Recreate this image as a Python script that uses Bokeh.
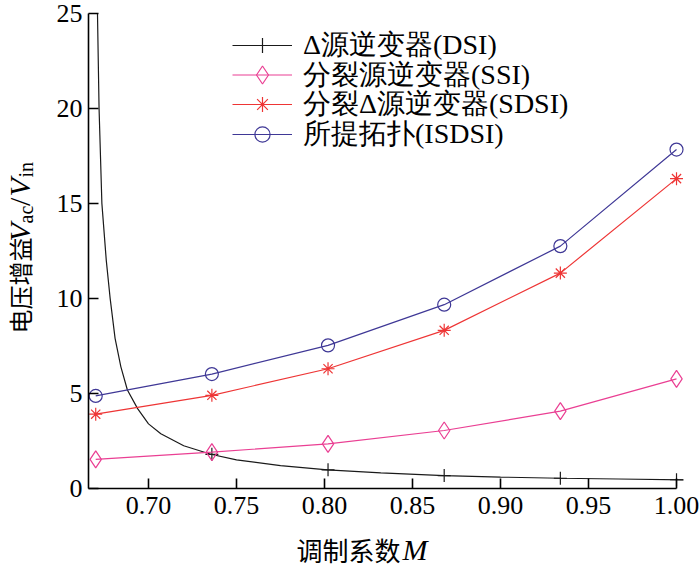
import math
from bokeh.plotting import figure
from bokeh.models import (Range1d, FixedTicker, NumeralTickFormatter, Legend,
                          LegendItem, Label)
from bokeh.embed import file_html
from bokeh.resources import INLINE

# ---------------- data ----------------
m_points = [0.670, 0.736, 0.802, 0.868, 0.934, 1.000]
isdsi_gain = [4.87, 6.02, 7.53, 9.67, 12.75, 17.83]
sdsi_gain = [3.91, 4.90, 6.30, 8.32, 11.33, 16.30]
ssi_gain = [1.53, 1.91, 2.35, 3.05, 4.07, 5.77]

dsi_curve_m = [0.6710, 0.6719, 0.6735, 0.6760, 0.6782, 0.6810, 0.6843, 0.6880,
               0.6938, 0.7000, 0.7070, 0.7200, 0.7354, 0.7500, 0.7750, 0.8017,
               0.8320, 0.8680, 0.9000, 0.9340, 0.9670, 1.0040]
dsi_curve_gain = [25.0, 20.0, 15.0, 12.0, 10.0, 7.9, 6.4, 5.18,
                  4.20, 3.40, 2.88, 2.25, 1.80, 1.51, 1.20, 0.98,
                  0.82, 0.68, 0.60, 0.54, 0.50, 0.455]
dsi_marker_m = [0.736, 0.802, 0.868, 0.934, 1.000]
dsi_marker_gain = [1.80, 0.98, 0.68, 0.54, 0.46]

x_ticks = [0.70, 0.75, 0.80, 0.85, 0.90, 0.95, 1.00]
y_ticks = [0, 5, 10, 15, 20, 25]
legend_labels = ["Δ源逆变器(DSI)", "分裂源逆变器(SSI)",
                 "分裂Δ源逆变器(SDSI)", "所提拓扑(ISDSI)"]
x_label_text = "调制系数"
x_label_var = "M"
y_label_text = "电压增益"
y_label_parts = [("V", "main", True), ("ac", "sub", False), ("/", "main", False),
                 ("V", "main", True), ("in", "sub", False)]

# ---------------- layout ----------------
W, H = 700, 567
AX_X0, AX_X1 = 0.6659, 1.0        # extent of the x axis line
AX_Y0, AX_Y1 = 0, 25              # extent of the y axis line
ORIGIN_PX = (88, 488)             # pixel position of the axes' corner
PX_PER_X = 1760.0
PX_PER_Y = 19.01

x_start = AX_X0 - ORIGIN_PX[0] / PX_PER_X
x_end = AX_X0 + (W - ORIGIN_PX[0]) / PX_PER_X
y_start = -(H - ORIGIN_PX[1]) / PX_PER_Y
y_end = ORIGIN_PX[1] / PX_PER_Y

C_DSI = "#1a1a1a"
C_SSI = "#ea3f93"
C_SDSI = "#ee3535"
C_ISDSI = "#3f3896"

SERIF = "Liberation Serif"
CJK = "Noto Sans CJK SC"

p = figure(width=W, height=H, output_backend="svg", toolbar_location=None,
           x_range=Range1d(x_start, x_end), y_range=Range1d(y_start, y_end),
           min_border=0)
p.outline_line_color = None
p.grid.visible = False
p.background_fill_color = "white"
p.border_fill_color = "white"

for ax in (p.xaxis[0], p.yaxis[0]):
    ax.axis_line_color = "black"
    ax.axis_line_width = 1.6
    ax.major_tick_line_color = "black"
    ax.major_tick_line_width = 1.6
    ax.major_tick_in = 10
    ax.major_tick_out = 0
    ax.minor_tick_line_color = None
    ax.major_label_text_font = SERIF
    ax.major_label_text_font_size = "26px"
    ax.major_label_text_color = "black"

p.xaxis[0].ticker = FixedTicker(ticks=x_ticks)
p.xaxis[0].formatter = NumeralTickFormatter(format="0.00")
p.xaxis[0].bounds = (AX_X0, AX_X1)
p.xaxis[0].fixed_location = AX_Y0
p.xaxis[0].major_label_standoff = 8
p.yaxis[0].ticker = FixedTicker(ticks=y_ticks)
p.yaxis[0].bounds = (AX_Y0, AX_Y1)
p.yaxis[0].fixed_location = AX_X0
p.yaxis[0].major_label_standoff = 6

# ---------------- series ----------------
lw = 1.2
dsi_line = p.line(dsi_curve_m, dsi_curve_gain, line_color=C_DSI, line_width=lw)
dsi_mark = p.scatter(dsi_marker_m, dsi_marker_gain, marker="cross", size=13,
                     line_color=C_DSI, line_width=lw)

ssi_line = p.line(m_points, ssi_gain, line_color=C_SSI, line_width=lw)
ssi_mark = p.scatter(m_points, ssi_gain, marker="diamond", size=17,
                     fill_color=None, line_color=C_SSI, line_width=lw)

sdsi_line = p.line(m_points, sdsi_gain, line_color=C_SDSI, line_width=lw)
sdsi_mark = p.scatter(m_points, sdsi_gain, marker="asterisk", size=13,
                      line_color=C_SDSI, line_width=lw)

isdsi_line = p.line(m_points, isdsi_gain, line_color=C_ISDSI, line_width=lw)
isdsi_mark = p.scatter(m_points, isdsi_gain, marker="circle", size=13,
                       fill_color=None, line_color=C_ISDSI, line_width=lw)

# one single-item legend per row, so the row pitch matches the reference
legend_rows = [
    (legend_labels[0], [dsi_line, dsi_mark], 38, 503),
    (legend_labels[1], [ssi_line, ssi_mark], 45, 470),
    (legend_labels[2], [sdsi_line, sdsi_mark], 38, 444),
    (legend_labels[3], [isdsi_line, isdsi_mark], 38, 414),
]
for label, rends, gh, loc_y in legend_rows:
    lg = Legend(items=[LegendItem(label=label, renderers=rends)],
                location=(232, loc_y), glyph_width=60, glyph_height=gh,
                label_height=gh, spacing=0, padding=0, margin=0,
                border_line_color=None, background_fill_alpha=0,
                label_standoff=11, label_text_font=SERIF,
                label_text_font_size="28px", label_text_color="black")
    p.add_layout(lg)


# ---------------- axis titles as text annotations ----------------
def dx(page_x):
    return AX_X0 + (page_x - ORIGIN_PX[0]) / PX_PER_X


def dy(page_y):
    return (ORIGIN_PX[1] - page_y) / PX_PER_Y


def add_label(px, py, text, font, size, italic=False, angle=0.0):
    p.add_layout(Label(x=dx(px), y=dy(py), text=text, text_font=font,
                       text_font_size=size,
                       text_font_style="italic" if italic else "normal",
                       text_align="left", text_baseline="alphabetic",
                       angle=angle, text_color="black"))


# x title
add_label(296, 549, x_label_text, CJK, "26px")
add_label(402, 549, x_label_var, SERIF, "30px", italic=True)

# y title (rotated, reads bottom to top)
R = math.pi / 2
MAIN_X, SUB_X = 19.0, 25.0
add_label(MAIN_X, 333, y_label_text, CJK, "24px", angle=R)
piece_starts = [241, 223, 205.5, 196, 177]
for (txt, kind, ital), py in zip(y_label_parts, piece_starts):
    if kind == "main":
        add_label(MAIN_X, py, txt, SERIF, "30px", italic=ital, angle=R)
    else:
        add_label(SUB_X, py, txt, SERIF, "20px", italic=ital, angle=R)

open("out.html", "w").write(file_html(p, INLINE))
